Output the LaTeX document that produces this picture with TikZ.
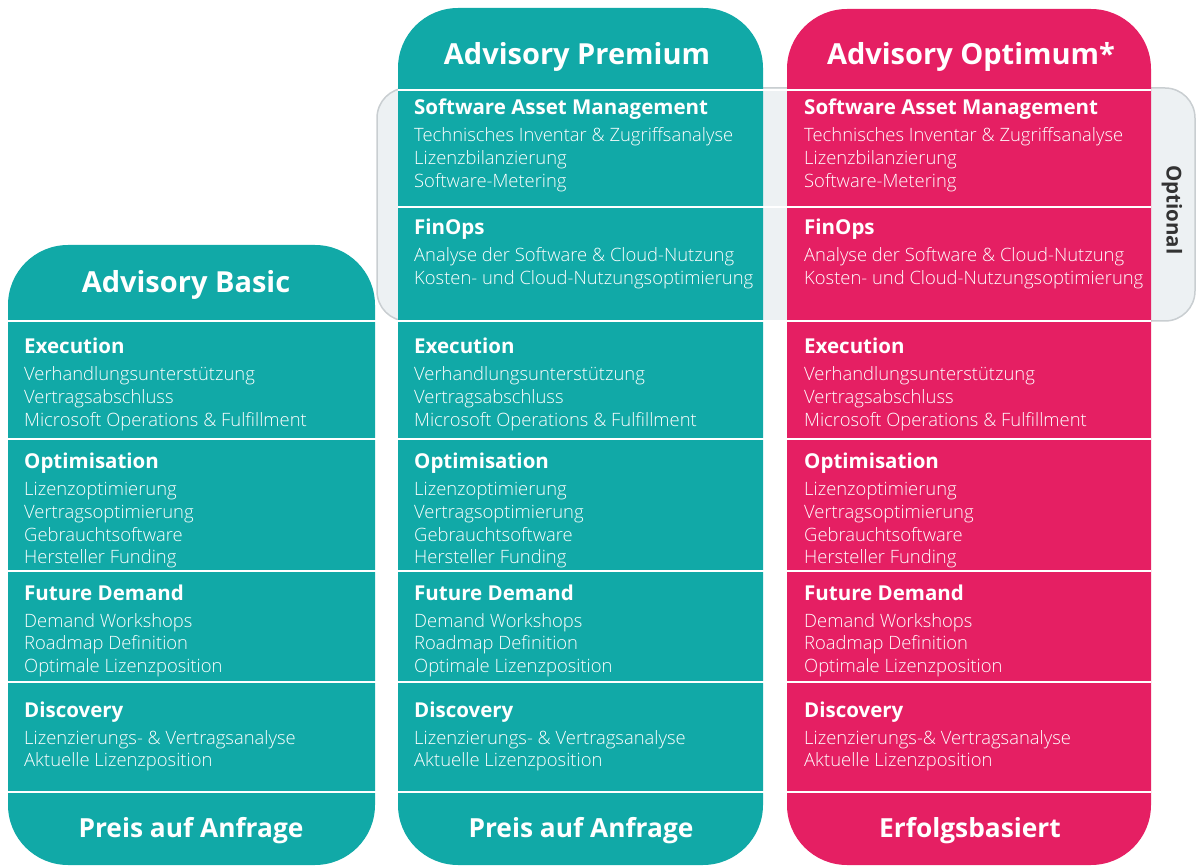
\documentclass[tikz,border=0pt]{standalone}
\usepackage{fontspec}
\setmainfont{Open Sans}
\IfFontExistsTF{Open Sans Light}{\newfontfamily\itemfont{Open Sans Light}}{\newfontfamily\itemfont{Open Sans}}
\definecolor{teal1}{HTML}{11A9A7}
\definecolor{pink1}{HTML}{E51F63}
\definecolor{optfill}{HTML}{EDF1F3}
\definecolor{optdraw}{HTML}{C9CED1}
\definecolor{opttext}{HTML}{333333}
\tikzset{
  colbox/.style={rounded corners=60pt},
  sepline/.style={white, line width=2.4pt},
  ttl/.style={text=white, font=\fontsize{29}{32}\selectfont\bfseries, inner sep=0pt, anchor=base},
  price/.style={text=white, font=\fontsize{26.3}{30}\selectfont\bfseries, inner sep=0pt, anchor=base},
  hd/.style={text=white, font=\fontsize{20.5}{24}\selectfont\bfseries, inner sep=0pt, anchor=base west},
  it/.style={text=white, font=\itemfont\fontsize{18.4}{21}\selectfont, inner sep=0pt, anchor=base west},
}
\newcommand\blk[5]{% name, x, heading y, heading, items
  \node[hd] (#1) at (#2,#3) {#4};
  \foreach \t [count=\i] in {#5} {
    \node[it] (#1-\i) at ({#2},{#3+27+22.6*(\i-1)}) {\t};
  }
}
\begin{document}
\begin{tikzpicture}[x=1pt,y=-1pt]
\useasboundingbox (0,0) rectangle (1203,866);
% optional box
\draw[fill=optfill, draw=optdraw, line width=1.5pt, rounded corners=30pt] (377,88) rectangle (1195,321);
% columns
\fill[teal1, colbox] (8,245) rectangle (375,865);
\fill[teal1, colbox] (398,8) rectangle (763,865);
\fill[pink1, colbox] (787,9) rectangle (1151,865);
% separators
\draw[sepline] (398,90) -- (1151,90);
\draw[sepline] (398,207) -- (1151,207);
\foreach \yy in {321,439,571,682,792} { \draw[sepline] (8,\yy) -- (1151,\yy); }
% titles
\node[ttl] (tb) at (186,293) {Advisory Basic};
\node[ttl] (tp) at (577,65) {Advisory Premium};
\node[ttl] (to) at (971,65) {Advisory Optimum*};
% optional label
\node[text=opttext, font=\fontsize{20.5}{24}\selectfont\bfseries, rotate=-90, inner sep=0pt] (opt) at (1172,210) {Optional};
% Premium optional sections
\blk{psam}{414}{115}{Software Asset Management}{Technisches Inventar \& Zugriffsanalyse, Lizenzbilanzierung, Software-Metering}
\blk{pfin}{414}{235}{FinOps}{Analyse der Software \& Cloud-Nutzung, Kosten- und Cloud-Nutzungsoptimierung}
\blk{osam}{804}{115}{Software Asset Management}{Technisches Inventar \& Zugriffsanalyse, Lizenzbilanzierung, Software-Metering}
\blk{ofin}{804}{235}{FinOps}{Analyse der Software \& Cloud-Nutzung, Kosten- und Cloud-Nutzungsoptimierung}
% common sections
\foreach \cx/\cn in {24/b, 414/p, 804/o} {
  \blk{\cn exe}{\cx}{354}{Execution}{Verhandlungsunterstützung, Vertragsabschluss, Microsoft Operations \& Fulfillment}
  \blk{\cn opt}{\cx}{469}{Optimisation}{Lizenzoptimierung, Vertragsoptimierung, Gebrauchtsoftware, Hersteller Funding}
  \blk{\cn fut}{\cx}{600}{Future Demand}{Demand Workshops, Roadmap Definition, Optimale Lizenzposition}
}
\blk{bdis}{24}{717}{Discovery}{Lizenzierungs- \& Vertragsanalyse, Aktuelle Lizenzposition}
\blk{pdis}{414}{717}{Discovery}{Lizenzierungs- \& Vertragsanalyse, Aktuelle Lizenzposition}
\blk{odis}{804}{717}{Discovery}{Lizenzierungs-\& Vertragsanalyse, Aktuelle Lizenzposition}
% prices
\node[price] (pb) at (191,837) {Preis auf Anfrage};
\node[price] (pp) at (581,837) {Preis auf Anfrage};
\node[price] (po) at (970,837) {Erfolgsbasiert};
\end{tikzpicture}
\end{document}
